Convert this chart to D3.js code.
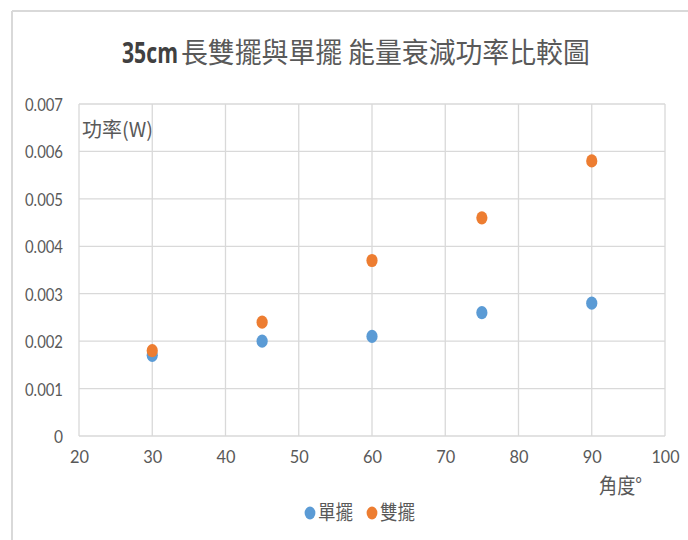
<!DOCTYPE html>
<html>
<head>
<meta charset="utf-8">
<script src="https://cdn.jsdelivr.net/npm/d3@7"></script>
<style>
  html, body { margin: 0; padding: 0; background: #fff; }
  svg { display: block; }
</style>
</head>
<body>
<div id="chart"></div>
<script>
// Swing angle (degrees) and measured energy-decay power (W)
const angles = [30, 45, 60, 75, 90];
const singlePendulum = [0.0017, 0.0020, 0.0021, 0.0026, 0.0028];
const doublePendulum = [0.0018, 0.0024, 0.0037, 0.0046, 0.0058];

const xTicks = [20, 30, 40, 50, 60, 70, 80, 90, 100];
const yTicks = [0, 0.001, 0.002, 0.003, 0.004, 0.005, 0.006, 0.007];

const seriesNames = ["單擺", "雙擺"];
const seriesColors = ["#5B9BD5", "#ED7D31"];

const W = 688, H = 540;
const plot = { left: 79, right: 665, top: 104, bottom: 436 };
const cjk = "'Noto Sans CJK TC', 'Noto Sans CJK SC', sans-serif";
const latin = "Lato, 'Liberation Sans', sans-serif";
const textGray = "#595959";
const gridGray = "#d9d9d9";

const svg = d3.select("#chart").append("svg")
  .attr("width", W).attr("height", H);

// outer chart frame (top and left edges visible)
svg.append("line").attr("x1", 12).attr("x2", W).attr("y1", 11).attr("y2", 11)
  .attr("stroke", "#d9d9d9").attr("stroke-width", 2);
svg.append("line").attr("x1", 12).attr("x2", 12).attr("y1", 11).attr("y2", H)
  .attr("stroke", "#d9d9d9").attr("stroke-width", 2);

const x = d3.scaleLinear().domain([20, 100]).range([plot.left, plot.right]);
const y = d3.scaleLinear().domain([0, 0.007]).range([plot.bottom, plot.top]);

// grid lines
const grid = svg.append("g");
grid.selectAll(".vg").data(xTicks).join("line")
  .attr("x1", d => x(d)).attr("x2", d => x(d))
  .attr("y1", plot.top).attr("y2", plot.bottom)
  .attr("stroke", gridGray).attr("stroke-width", 1.3);
grid.selectAll(".hg").data(yTicks).join("line")
  .attr("x1", plot.left).attr("x2", plot.right)
  .attr("y1", d => y(d)).attr("y2", d => y(d))
  .attr("stroke", gridGray).attr("stroke-width", 1.3);

// axes (labels only, lines come from the grid)
const yAxis = svg.append("g")
  .attr("transform", `translate(${plot.left},0)`)
  .call(d3.axisLeft(y).tickValues(yTicks).tickSize(0).tickPadding(16)
    .tickFormat(d => d === 0 ? "0" : d3.format(".3f")(d)));
yAxis.select(".domain").remove();
yAxis.selectAll("text")
  .attr("font-family", latin).attr("font-size", 18).attr("fill", textGray)
  .attr("dy", "0.36em")
  .attr("textLength", d => d === 0 ? 9 : 38)
  .attr("lengthAdjust", "spacingAndGlyphs");

const xAxis = svg.append("g")
  .attr("transform", `translate(0,${plot.bottom})`)
  .call(d3.axisBottom(x).tickValues(xTicks).tickSize(0).tickPadding(21)
    .tickFormat(d3.format("d")));
xAxis.select(".domain").remove();
xAxis.selectAll("text")
  .attr("font-family", latin).attr("font-size", 18).attr("fill", textGray)
  .attr("dy", "0.36em")
  .attr("textLength", d => d === 100 ? 28 : 19)
  .attr("lengthAdjust", "spacingAndGlyphs");

// points
const series = [singlePendulum, doublePendulum];
series.forEach((vals, i) => {
  svg.append("g").selectAll("ellipse")
    .data(angles.map((a, j) => ({ a, v: vals[j] })))
    .join("ellipse")
    .attr("cx", d => x(d.a)).attr("cy", d => y(d.v))
    .attr("rx", 5.6).attr("ry", 6.6)
    .attr("fill", seriesColors[i]);
});

// Draw a text squeezed horizontally to a given width with a transform
function fitText(parent, str, px, py, width, attrs) {
  const t = parent.append("text").attr("x", 0).attr("y", 0).text(str);
  Object.entries(attrs).forEach(([k, v]) => t.attr(k, v));
  const natural = t.node().getComputedTextLength();
  const sx = natural > 0 ? width / natural : 1;
  t.attr("transform", `translate(${px},${py}) scale(${sx},1)`);
  return t;
}

// title
fitText(svg, "35cm", 122, 63, 56, {
  "font-family": "'Open Sans', " + latin, "font-weight": "bold",
  "font-size": 29, "fill": "#404040"
});
fitText(svg, "長雙擺與單擺 能量衰減功率比較圖", 181, 63, 409, {
  "font-family": cjk, "font-size": 28, "fill": textGray
});

// axis titles
fitText(svg, "功率(W)", 82, 137, 71, {
  "font-family": cjk, "font-size": 20, "fill": textGray
});
fitText(svg, "角度°", 599, 493, 43, {
  "font-family": cjk, "font-size": 21, "fill": textGray
});

// legend
const legend = svg.append("g");
const legendItems = [
  { name: seriesNames[0], color: seriesColors[0], dot: 310, tx: 318 },
  { name: seriesNames[1], color: seriesColors[1], dot: 372, tx: 380 }
];
legendItems.forEach(it => {
  legend.append("ellipse").attr("cx", it.dot).attr("cy", 513)
    .attr("rx", 5.4).attr("ry", 6.4).attr("fill", it.color);
  fitText(legend, it.name, it.tx, 520, 35, {
    "font-family": cjk, "font-size": 20, "fill": textGray
  });
});
</script>
</body>
</html>
